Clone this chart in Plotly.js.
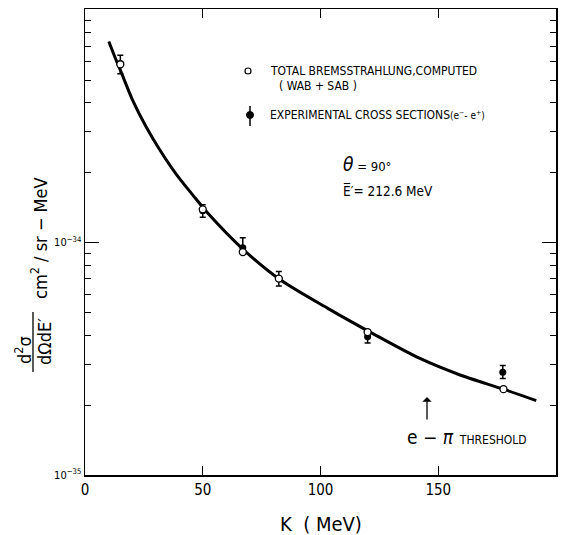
<!DOCTYPE html>
<html>
<head>
<meta charset="utf-8">
<script src="https://cdn.plot.ly/plotly-3.0.1.min.js"></script>
<style>html,body{margin:0;padding:0;background:#fff;}#chart{width:564px;height:535px;}</style>
</head>
<body>
<div id="chart"></div>
<script>
// Smooth computed curve (total bremsstrahlung)
const K_curve = [10.1, 13.2, 15.4, 20.3, 26.0, 31.6, 38.7, 45.8, 52.1, 67.0, 82.6, 103.1, 122.2, 142.0, 159.0, 177.7, 191.6];
const sigma_curve = [7.33e-34, 6.1e-34, 5.4e-34, 4.08e-34, 3.14e-34, 2.52e-34, 1.97e-34, 1.6e-34, 1.34e-34, 9.38e-35, 6.95e-35, 5.21e-35, 4.06e-35, 3.18e-35, 2.70e-35, 2.34e-35, 2.09e-35];

// Computed points (open circles)
const K_comp = [15, 50, 67, 82.3, 120, 177.7];
const sigma_comp = [5.85e-34, 1.39e-34, 9.1e-35, 7.0e-35, 4.12e-35, 2.34e-35];

// Experimental cross sections (filled, with error bars)
const K_exp = [15, 50, 67, 82.3, 120, 177.4];
const sigma_exp = [5.9e-34, 1.37e-34, 9.5e-35, 7.0e-35, 3.93e-35, 2.77e-35];
const err_plus = [0.5e-34, 0.085e-34, 1.0e-35, 0.5e-35, 0.29e-35, 0.19e-35];
const err_minus = [0.58e-34, 0.085e-34, 0.55e-35, 0.5e-35, 0.23e-35, 0.17e-35];

// Axis ticks
const xTicks = [0, 50, 100, 150, 200];
const yTicks = [1e-35, 1e-34];
const yTickText = ['10<sup>−35</sup>', '10<sup>−34</sup>'];
const yMinor = [2e-35,3e-35,4e-35,5e-35,6e-35,7e-35,8e-35,9e-35,2e-34,3e-34,4e-34,5e-34,6e-34,7e-34,8e-34,9e-34];

const FONT = "'Liberation Sans Narrow', 'DejaVu Sans Condensed', 'Arial Narrow', 'Liberation Sans', sans-serif";

// pixel -> paper helpers (plot area: x 85..556, y 9..475)
const L = 85, T = 9, W = 471, H = 466;
const px = x => (x - L) / W;
const py = y => (T + H - y) / H;

const traces = [
  {x: K_curve, y: sigma_curve, mode: 'lines', line: {color: '#000', width: 3, shape: 'spline', smoothing: 0.8}, hoverinfo: 'skip'},
  {x: K_exp, y: sigma_exp, mode: 'markers', marker: {symbol: 'circle', size: 7, color: '#000'},
   error_y: {type: 'data', symmetric: false, array: err_plus, arrayminus: err_minus, color: '#000', thickness: 1.5, width: 3}},
  {x: K_comp, y: sigma_comp, mode: 'markers', marker: {symbol: 'circle', size: 7, color: '#fff', line: {color: '#000', width: 1.3}}}
];

const ann = (x, y, text, opts) => Object.assign({xref: 'paper', yref: 'paper', x: px(x), y: py(y), text: text, showarrow: false,
  xanchor: 'left', yanchor: 'middle', font: {family: FONT, size: 12, color: '#000'}}, opts || {});

const layout = {
  width: 564, height: 535,
  margin: {l: L, r: 564 - L - W, t: T, b: 535 - T - H},
  paper_bgcolor: '#fff', plot_bgcolor: '#fff',
  showlegend: false,
  font: {family: FONT, color: '#000'},
  xaxis: {
    range: [0, 200], tickvals: xTicks, ticktext: xTicks.map(String),
    ticks: 'inside', ticklen: 9, tickwidth: 1.2, tickcolor: '#000',
    showline: true, linecolor: '#000', linewidth: 1.5, mirror: 'ticks',
    showgrid: false, zeroline: false,
    tickfont: {family: FONT, size: 15, color: '#000'}
  },
  yaxis: {
    type: 'log', range: [-35, -32.995],
    tickvals: yTicks, ticktext: yTickText,
    ticks: 'inside', ticklen: 14, tickwidth: 1.2, tickcolor: '#000',
    minor: {tickvals: yMinor, ticks: 'inside', ticklen: 6, tickwidth: 1, tickcolor: '#000', showgrid: false},
    showline: true, linecolor: '#000', linewidth: 1.5, mirror: 'ticks',
    showgrid: false, zeroline: false,
    tickfont: {family: FONT, size: 11, color: '#000'}
  },
  annotations: [
    // legend texts
    ann(268, 71, 'TOTAL BREMSSTRAHLUNG,COMPUTED'),
    ann(277, 86, '( WAB + SAB )'),
    ann(268, 115, 'EXPERIMENTAL CROSS SECTIONS<span style="font-size:10px">(e<sup>−</sup>- e<sup>+</sup>)</span>'),
    // condition texts
    ann(341, 164, '<span style="font-size:19px"><i>θ</i></span> = 90°', {font: {family: FONT, size: 13, color: '#000'}}),
    ann(341, 191, 'E\u0305\u2032= 212.6 MeV', {font: {family: FONT, size: 13.5, color: '#000'}}),
    // threshold
    ann(405, 437, '<span style="font-size:19px">e − <i>π</i></span>  THRESHOLD'),
    {xref: 'paper', yref: 'paper', x: px(427), y: py(397), ax: 0, ay: 24, text: '', showarrow: true,
     arrowhead: 1, arrowsize: 1.2, arrowwidth: 1.3, arrowcolor: '#000'},
    // axis title
    {xref: 'paper', yref: 'paper', x: px(321), y: py(524), text: 'K  ( MeV)', showarrow: false,
     xanchor: 'center', yanchor: 'middle', font: {family: FONT, size: 20, color: '#000'}},
    // y title: fraction + units
    {xref: 'paper', yref: 'paper', x: px(23), y: py(350), text: 'd<sup>2</sup>σ', textangle: -90, showarrow: false,
     xanchor: 'center', yanchor: 'middle', font: {family: FONT, size: 18, color: '#000'}},
    {xref: 'paper', yref: 'paper', x: px(44), y: py(342), text: 'dΩdE\u2032', textangle: -90, showarrow: false,
     xanchor: 'center', yanchor: 'middle', font: {family: FONT, size: 18, color: '#000'}},
    {xref: 'paper', yref: 'paper', x: px(39), y: py(238), text: 'cm<sup>2</sup> / sr − MeV', textangle: -90, showarrow: false,
     xanchor: 'center', yanchor: 'middle', font: {family: FONT, size: 18, color: '#000'}}
  ],
  shapes: [
    // fraction bar
    {type: 'line', xref: 'paper', yref: 'paper', x0: px(33), x1: px(33), y0: py(312), y1: py(372), line: {color: '#000', width: 1.3}},
    // legend glyph: open circle
    {type: 'circle', xref: 'paper', yref: 'paper', xsizemode: 'pixel', ysizemode: 'pixel',
     xanchor: px(248), yanchor: py(71), x0: -3, x1: 3, y0: -3, y1: 3, line: {color: '#000', width: 1.2}, fillcolor: '#fff'},
    // legend glyph: filled point with bar
    {type: 'line', xref: 'paper', yref: 'paper', x0: px(250), x1: px(250), y0: py(106), y1: py(126), line: {color: '#000', width: 1.5}},
    {type: 'circle', xref: 'paper', yref: 'paper', xsizemode: 'pixel', ysizemode: 'pixel',
     xanchor: px(250), yanchor: py(115), x0: -3.5, x1: 3.5, y0: -3.5, y1: 3.5, line: {color: '#000', width: 1}, fillcolor: '#000'}
  ]
};

Plotly.newPlot('chart', traces, layout, {displayModeBar: false, staticPlot: true});
</script>
</body>
</html>
